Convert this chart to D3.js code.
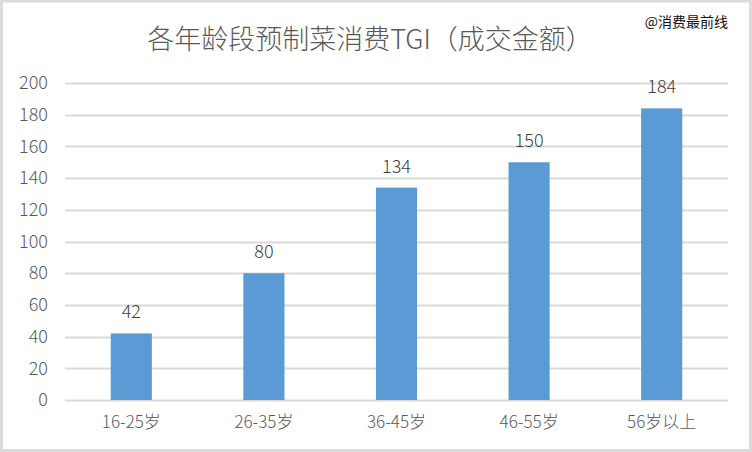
<!DOCTYPE html>
<html><head><meta charset="utf-8">
<script src="https://cdn.jsdelivr.net/npm/d3@7"></script>
<style>body{margin:0;background:#fff;}svg{display:block;}</style>
</head><body>
<script>
const categories = ["16-25岁", "26-35岁", "36-45岁", "46-55岁", "56岁以上"];
const values = [42, 80, 134, 150, 184];
const yTicks = [0, 20, 40, 60, 80, 100, 120, 140, 160, 180, 200];
const title = "各年龄段预制菜消费TGI（成交金额）";
const watermark = "@消费最前线";

const W = 752, H = 452;
const font = "'Noto Sans CJK SC', 'Noto Sans', sans-serif";
const svg = d3.select("body").append("svg").attr("width", W).attr("height", H);
svg.append("rect").attr("x", 0).attr("y", 0).attr("width", W).attr("height", H).attr("fill", "#fff");
// frame
svg.append("rect").attr("x", 1.5).attr("y", 1).attr("width", W - 3).attr("height", H - 2.5)
  .attr("fill", "none").attr("stroke", "#dcdcdc").attr("stroke-width", 3);

const x = d3.scaleBand().domain(categories).range([65, 728]).paddingInner(0.69).paddingOuter(0.345);
const y = d3.scaleLinear().domain([0, 200]).range([400, 83]);

const grid = svg.append("g");
grid.selectAll("line").data(yTicks).join("line")
  .attr("x1", 65).attr("x2", 728)
  .attr("y1", d => Math.round(y(d)) + 0.5).attr("y2", d => Math.round(y(d)) + 0.5)
  .attr("stroke", "#d9d9d9").attr("stroke-width", 2);

const yAxis = d3.axisLeft(y).tickValues(yTicks).tickSize(0).tickPadding(0);
const ga = svg.append("g").attr("transform", "translate(48,0)").call(yAxis);
ga.select(".domain").remove();
ga.selectAll("text").attr("font-family", font).attr("font-size", 18).attr("font-weight", 300).attr("fill", "#595959");

svg.append("g").selectAll("rect").data(values).join("rect")
  .attr("x", (d, i) => x(categories[i]))
  .attr("width", x.bandwidth())
  .attr("y", d => y(d))
  .attr("height", d => y(0) - y(d))
  .attr("fill", "#5b9bd5");

svg.append("g").selectAll("text").data(values).join("text")
  .attr("x", (d, i) => x(categories[i]) + x.bandwidth() / 2)
  .attr("y", d => y(d) - 15)
  .attr("text-anchor", "middle")
  .attr("font-family", font).attr("font-size", 18).attr("font-weight", 300).attr("fill", "#404040")
  .text(d => d);

const xAxis = d3.axisBottom(x).tickSize(0).tickPadding(0);
const gx = svg.append("g").attr("transform", "translate(0,416)").call(xAxis);
gx.select(".domain").remove();
gx.selectAll("text").attr("font-family", font).attr("font-size", 17).attr("font-weight", 300).attr("fill", "#595959").attr("dy", "0.71em");

svg.append("text").attr("x", 370).attr("y", 49).attr("text-anchor", "middle")
  .attr("font-family", font).attr("font-size", 27).attr("font-weight", 300).attr("fill", "#595959").text(title);

svg.append("text").attr("x", 728).attr("y", 27).attr("text-anchor", "end")
  .attr("font-family", font).attr("font-size", 14).attr("fill", "#111").text(watermark);
</script>
</body></html>
